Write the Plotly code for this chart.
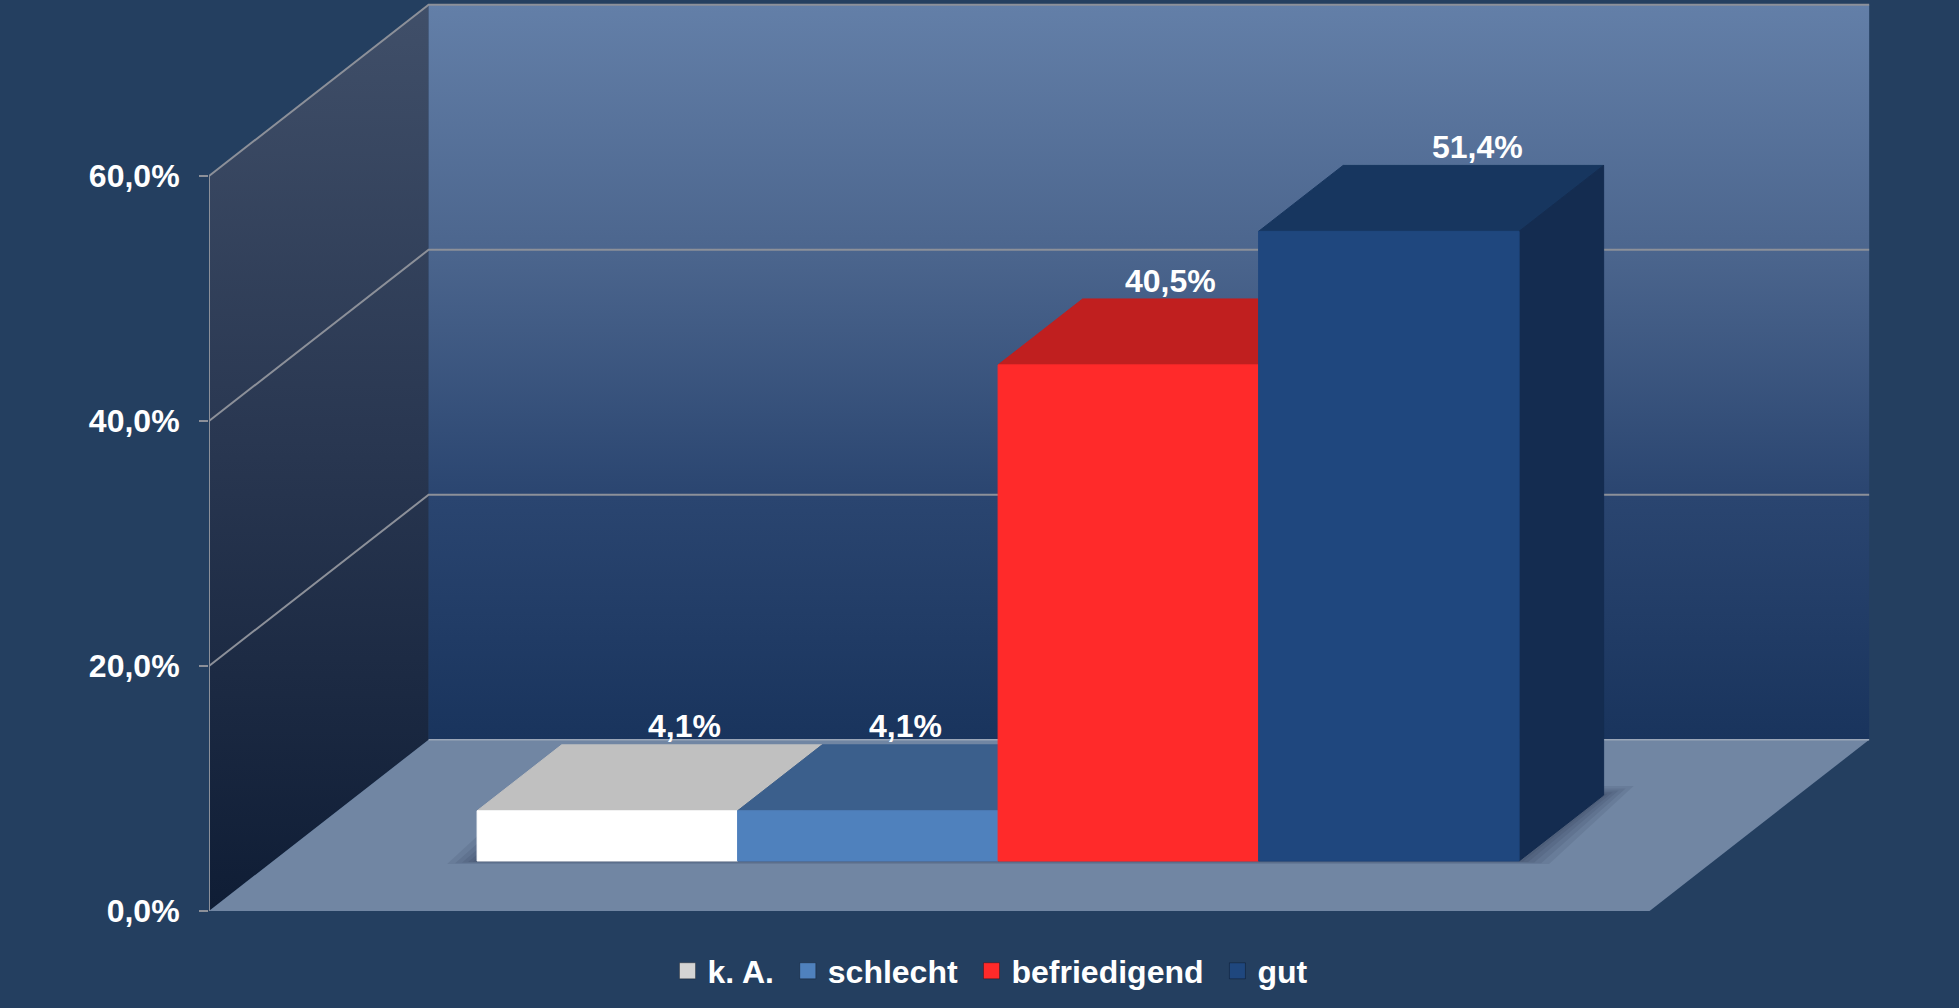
import plotly.graph_objects as go

# ---------------- data ----------------
categories = ["k. A.", "schlecht", "befriedigend", "gut"]
values = [4.1, 4.1, 40.5, 51.4]
tick_values = [0, 20, 40, 60]
tick_labels = ["0,0%", "20,0%", "40,0%", "60,0%"]

# ---------------- style ----------------
front_colors = ["#ffffff", "#4f81bd", "#ff2a2a", "#1f477e"]
top_colors = ["#c0c0c0", "#3b5f8c", "#c01f1f", "#17365f"]
side_colors = ["#a6a6a6", "#2f5078", "#a01818", "#142c50"]
legend_colors = ["#d4d4d4", "#4f81bd", "#ff2a2a", "#1f477e"]
label_nudge_px = [18, -22, -17, 29]   # horizontal nudge of the value labels

BG = "#243f60"
GRID = "#8c9099"
FONT = dict(family="Liberation Sans, Arial, sans-serif", size=32, color="white", weight="bold")

W, H = 1959, 1008
ML, MB = 209, 97
PX_PER_X = 260.5      # pixels per category unit
PX_PER_Y = 12.25      # pixels per percent

DX, DY = 0.843, 13.98  # oblique depth offset (data units) of the full floor depth
ZF, ZB = 0.292, 0.677  # bar front / back depth (fraction of floor depth)
MARGIN_L, MARGIN_R = 0.783, 0.747
FLOOR_L = -0.5 - MARGIN_L
FLOOR_R = len(categories) - 0.5 + MARGIN_R
YMAX = tick_values[-1]

traces = []


def poly(xs, ys, color=None, grad=None, lw=0, lc=None):
    d = dict(x=list(xs) + [xs[0]], y=list(ys) + [ys[0]], mode="lines", fill="toself",
             line=dict(width=lw, color=lc or color or "rgba(0,0,0,0)"),
             hoverinfo="skip", showlegend=False)
    if grad is not None:
        d["fillgradient"] = dict(type="vertical", colorscale=grad)
        d["fillcolor"] = grad[-1][1]
    else:
        d["fillcolor"] = color
    return go.Scatter(**d)


def line(xs, ys, color=GRID, width=2):
    return go.Scatter(x=xs, y=ys, mode="lines", line=dict(color=color, width=width),
                      hoverinfo="skip", showlegend=False)


# side wall
traces.append(poly([FLOOR_L, FLOOR_L, FLOOR_L + DX, FLOOR_L + DX],
                   [0, YMAX, YMAX + DY, DY],
                   grad=[[0, "#0f1d35"], [0.5, "#283650"], [1, "#404f69"]]))
# back wall
traces.append(poly([FLOOR_L + DX, FLOOR_R + DX, FLOOR_R + DX, FLOOR_L + DX],
                   [DY, DY, YMAX + DY, YMAX + DY],
                   grad=[[0, "#19345d"], [0.33, "#2a4570"], [0.67, "#4c668e"], [1, "#637fa8"]]))
# floor
traces.append(poly([FLOOR_L, FLOOR_R, FLOOR_R + DX, FLOOR_L + DX],
                   [0, 0, DY, DY], color="#7186a3"))

# gridlines (side + back wall)
for t in tick_values:
    if t == 0:
        traces.append(line([FLOOR_L + DX, FLOOR_R + DX], [DY, DY], color="#9aa6b8", width=1.5))
        continue
    traces.append(line([FLOOR_L, FLOOR_L + DX, FLOOR_R + DX], [t, t + DY, t + DY]))
# front axis line
traces.append(line([FLOOR_L, FLOOR_L], [0, YMAX]))

# bar geometry
fx, fy = ZF * DX, ZF * DY
dx, dy = (ZB - ZF) * DX, (ZB - ZF) * DY
n = len(categories)

# soft shadow: blurred footprint of the bar block on the floor
x0, x1 = -0.5 + fx, n - 0.5 + fx
for e in [30, 22, 15, 9, 4]:
    ex, ey = e / PX_PER_X, e / PX_PER_Y
    traces.append(poly([x0 - ex, x1 + ex, x1 + dx + ex, x0 + dx - ex],
                       [fy - 0.1 * ey, fy - 0.1 * ey, fy + dy + 0.3 * ey, fy + dy + 0.3 * ey],
                       color="rgba(25,35,55,0.09)"))

annotations = []
for i, (cat, v) in enumerate(zip(categories, values)):
    xl, xr = i - 0.5 + fx, i + 0.5 + fx
    yb, yt = fy, fy + v
    # top face
    traces.append(poly([xl, xr, xr + dx, xl + dx], [yt, yt, yt + dy, yt + dy],
                       color=top_colors[i], lw=1))
    # side face
    traces.append(poly([xr, xr, xr + dx, xr + dx], [yb, yt, yt + dy, yb + dy],
                       color=side_colors[i], lw=1))
    # front face
    traces.append(poly([xl, xr, xr, xl], [yb, yb, yt, yt], color=front_colors[i], lw=1))
    # value label
    annotations.append(dict(
        x=i + fx + 0.7 * dx + label_nudge_px[i] / PX_PER_X, y=yt + dy + 1.5,
        xref="x", yref="y",
        text=f"{v:.1f}%".replace(".", ","), showarrow=False,
        xanchor="center", yanchor="middle", font=FONT))

# legend entries
for i, cat in enumerate(categories):
    pad = "\u00a0" if i < len(categories) - 1 else ""
    traces.append(go.Scatter(x=[None], y=[None], mode="markers", name=cat + pad,
                             marker=dict(symbol="square", size=17, color=legend_colors[i],
                                         line=dict(width=1, color="rgba(0,0,0,0.3)")),
                             hoverinfo="skip", showlegend=True))

fig = go.Figure(traces)
plot_w = W - ML
plot_h = H - MB
fig.update_layout(
    width=W, height=H,
    margin=dict(l=ML, r=0, t=0, b=MB, pad=0),
    paper_bgcolor=BG, plot_bgcolor=BG,
    font=FONT,
    showlegend=True,
    legend=dict(orientation="h", x=(990 - ML) / plot_w, xanchor="center",
                y=-(971 - plot_h) / plot_h, yanchor="middle",
                font=FONT, bgcolor="rgba(0,0,0,0)", itemclick=False, itemdoubleclick=False),
    annotations=annotations,
    xaxis=dict(visible=False, range=[FLOOR_L, FLOOR_L + plot_w / PX_PER_X], fixedrange=True),
    yaxis=dict(range=[0, plot_h / PX_PER_Y], tickvals=tick_values, ticktext=tick_labels,
               showgrid=False, zeroline=False, showline=False,
               ticks="outside", ticklen=9, tickwidth=2, tickcolor=GRID,
               ticklabelstandoff=13, tickfont=FONT, fixedrange=True),
)

fig.write_html("out.html", config={"displayModeBar": False},
               post_script="document.body.style.margin='0';document.body.style.overflow='hidden';")
